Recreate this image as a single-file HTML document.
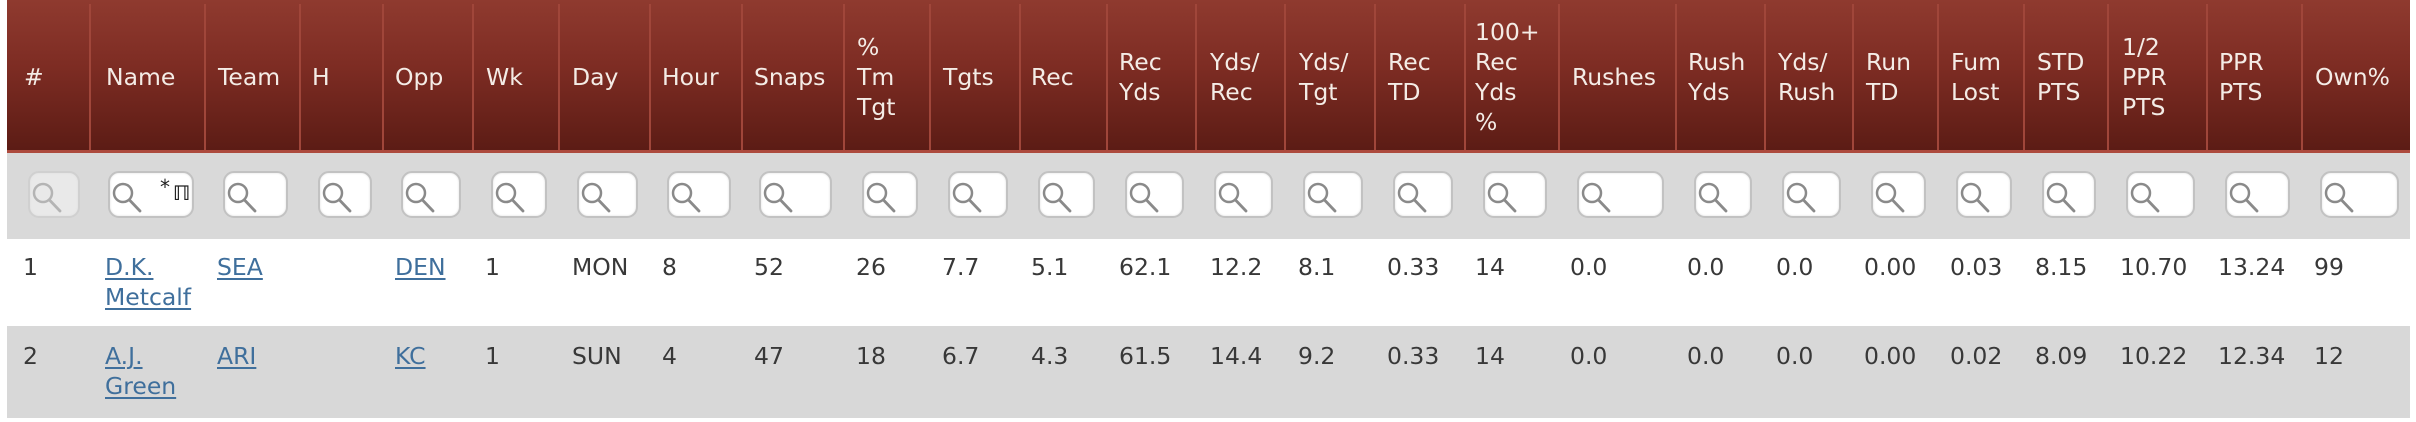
<!DOCTYPE html>
<html><head><meta charset="utf-8"><style>
html,body{margin:0;padding:0;background:#fff;}
body{width:2416px;height:422px;position:relative;overflow:hidden;font-family:"DejaVu Sans","Liberation Sans",sans-serif;font-size:23.5px;}
.hdr{position:absolute;left:7px;top:0;width:2403px;height:150px;background:linear-gradient(#8f3a2f 0%,#7d2c23 45%,#5c1c15 100%);}
.hline{position:absolute;left:7px;top:150px;width:2403px;height:3px;background:#ad4a3d;}
.sep{position:absolute;top:4px;width:2px;height:146px;background:#a0463a;}
.ht{position:absolute;top:0;height:154px;display:flex;align-items:center;color:#f4ece6;line-height:30px;white-space:nowrap;}
.frow{position:absolute;left:7px;top:153px;width:2403px;height:86px;background:#d9d9d9;}
.r1{position:absolute;left:7px;top:239px;width:2403px;height:87px;background:#fff;}
.r2{position:absolute;left:7px;top:326px;width:2403px;height:92px;background:#d8d8d8;}
.box{position:absolute;top:171px;height:47px;box-sizing:border-box;border:2px solid #c2c2c2;border-radius:11px;background:#fff;box-shadow:inset 0 0 2px #ddd;}
.box svg{position:absolute;left:0;top:0;}
.box.dis{background:#e9e9e9;border-color:#d0d0d0;}
.c{position:absolute;line-height:30px;color:#383838;white-space:nowrap;}
.c a{color:#3f6f9c;text-decoration:underline;text-decoration-thickness:2px;text-underline-offset:3px;}
.t1{top:252px;}
.t2{top:341px;}
.star{position:absolute;left:50px;top:2px;font-size:20px;color:#222;}
.pi{position:absolute;left:63px;top:8px;font-size:20px;font-weight:bold;color:#222;}
</style></head><body>
<div class="hdr"></div>
<div class="hline"></div>
<div class="sep" style="left:89px"></div>
<div class="sep" style="left:204px"></div>
<div class="sep" style="left:299px"></div>
<div class="sep" style="left:382px"></div>
<div class="sep" style="left:472px"></div>
<div class="sep" style="left:558px"></div>
<div class="sep" style="left:649px"></div>
<div class="sep" style="left:741px"></div>
<div class="sep" style="left:843px"></div>
<div class="sep" style="left:929px"></div>
<div class="sep" style="left:1019px"></div>
<div class="sep" style="left:1106px"></div>
<div class="sep" style="left:1195px"></div>
<div class="sep" style="left:1284px"></div>
<div class="sep" style="left:1374px"></div>
<div class="sep" style="left:1464px"></div>
<div class="sep" style="left:1558px"></div>
<div class="sep" style="left:1675px"></div>
<div class="sep" style="left:1764px"></div>
<div class="sep" style="left:1852px"></div>
<div class="sep" style="left:1937px"></div>
<div class="sep" style="left:2023px"></div>
<div class="sep" style="left:2107px"></div>
<div class="sep" style="left:2206px"></div>
<div class="sep" style="left:2301px"></div>

<div class="ht" style="left:24px">#</div>
<div class="ht" style="left:106px">Name</div>
<div class="ht" style="left:218px">Team</div>
<div class="ht" style="left:312px">H</div>
<div class="ht" style="left:395px">Opp</div>
<div class="ht" style="left:486px">Wk</div>
<div class="ht" style="left:572px">Day</div>
<div class="ht" style="left:662px">Hour</div>
<div class="ht" style="left:754px">Snaps</div>
<div class="ht" style="left:857px">%<br>Tm<br>Tgt</div>
<div class="ht" style="left:943px">Tgts</div>
<div class="ht" style="left:1031px">Rec</div>
<div class="ht" style="left:1119px">Rec<br>Yds</div>
<div class="ht" style="left:1210px">Yds/<br>Rec</div>
<div class="ht" style="left:1299px">Yds/<br>Tgt</div>
<div class="ht" style="left:1388px">Rec<br>TD</div>
<div class="ht" style="left:1475px">100+<br>Rec<br>Yds<br>%</div>
<div class="ht" style="left:1572px">Rushes</div>
<div class="ht" style="left:1688px">Rush<br>Yds</div>
<div class="ht" style="left:1778px">Yds/<br>Rush</div>
<div class="ht" style="left:1866px">Run<br>TD</div>
<div class="ht" style="left:1951px">Fum<br>Lost</div>
<div class="ht" style="left:2037px">STD<br>PTS</div>
<div class="ht" style="left:2122px">1/2<br>PPR<br>PTS</div>
<div class="ht" style="left:2219px">PPR<br>PTS</div>
<div class="ht" style="left:2315px">Own%</div>

<div class="frow"></div>
<div class="r1"></div>
<div class="r2"></div>

<div class="box dis" style="left:28px;width:52px"><svg width="50" height="45"><circle cx="13" cy="20" r="9" fill="none" stroke="#b4b4b4" stroke-width="2.5"/><line x1="19.5" y1="27" x2="30" y2="38" stroke="#b4b4b4" stroke-width="2.8" stroke-linecap="round"/></svg></div>
<div class="box" style="left:108px;width:86px"><svg width="84" height="45"><circle cx="13" cy="20" r="9" fill="none" stroke="#8a8a8a" stroke-width="2.5"/><line x1="19.5" y1="27" x2="30" y2="38" stroke="#8a8a8a" stroke-width="2.8" stroke-linecap="round"/></svg><span class="star">*</span><span class="pi">ℿ</span></div>
<div class="box" style="left:223px;width:65px"><svg width="63" height="45"><circle cx="13" cy="20" r="9" fill="none" stroke="#8a8a8a" stroke-width="2.5"/><line x1="19.5" y1="27" x2="30" y2="38" stroke="#8a8a8a" stroke-width="2.8" stroke-linecap="round"/></svg></div>
<div class="box" style="left:318px;width:54px"><svg width="52" height="45"><circle cx="13" cy="20" r="9" fill="none" stroke="#8a8a8a" stroke-width="2.5"/><line x1="19.5" y1="27" x2="30" y2="38" stroke="#8a8a8a" stroke-width="2.8" stroke-linecap="round"/></svg></div>
<div class="box" style="left:401px;width:60px"><svg width="58" height="45"><circle cx="13" cy="20" r="9" fill="none" stroke="#8a8a8a" stroke-width="2.5"/><line x1="19.5" y1="27" x2="30" y2="38" stroke="#8a8a8a" stroke-width="2.8" stroke-linecap="round"/></svg></div>
<div class="box" style="left:491px;width:56px"><svg width="54" height="45"><circle cx="13" cy="20" r="9" fill="none" stroke="#8a8a8a" stroke-width="2.5"/><line x1="19.5" y1="27" x2="30" y2="38" stroke="#8a8a8a" stroke-width="2.8" stroke-linecap="round"/></svg></div>
<div class="box" style="left:577px;width:61px"><svg width="59" height="45"><circle cx="13" cy="20" r="9" fill="none" stroke="#8a8a8a" stroke-width="2.5"/><line x1="19.5" y1="27" x2="30" y2="38" stroke="#8a8a8a" stroke-width="2.8" stroke-linecap="round"/></svg></div>
<div class="box" style="left:667px;width:64px"><svg width="62" height="45"><circle cx="13" cy="20" r="9" fill="none" stroke="#8a8a8a" stroke-width="2.5"/><line x1="19.5" y1="27" x2="30" y2="38" stroke="#8a8a8a" stroke-width="2.8" stroke-linecap="round"/></svg></div>
<div class="box" style="left:759px;width:73px"><svg width="71" height="45"><circle cx="13" cy="20" r="9" fill="none" stroke="#8a8a8a" stroke-width="2.5"/><line x1="19.5" y1="27" x2="30" y2="38" stroke="#8a8a8a" stroke-width="2.8" stroke-linecap="round"/></svg></div>
<div class="box" style="left:862px;width:56px"><svg width="54" height="45"><circle cx="13" cy="20" r="9" fill="none" stroke="#8a8a8a" stroke-width="2.5"/><line x1="19.5" y1="27" x2="30" y2="38" stroke="#8a8a8a" stroke-width="2.8" stroke-linecap="round"/></svg></div>
<div class="box" style="left:948px;width:60px"><svg width="58" height="45"><circle cx="13" cy="20" r="9" fill="none" stroke="#8a8a8a" stroke-width="2.5"/><line x1="19.5" y1="27" x2="30" y2="38" stroke="#8a8a8a" stroke-width="2.8" stroke-linecap="round"/></svg></div>
<div class="box" style="left:1038px;width:57px"><svg width="55" height="45"><circle cx="13" cy="20" r="9" fill="none" stroke="#8a8a8a" stroke-width="2.5"/><line x1="19.5" y1="27" x2="30" y2="38" stroke="#8a8a8a" stroke-width="2.8" stroke-linecap="round"/></svg></div>
<div class="box" style="left:1125px;width:59px"><svg width="57" height="45"><circle cx="13" cy="20" r="9" fill="none" stroke="#8a8a8a" stroke-width="2.5"/><line x1="19.5" y1="27" x2="30" y2="38" stroke="#8a8a8a" stroke-width="2.8" stroke-linecap="round"/></svg></div>
<div class="box" style="left:1214px;width:59px"><svg width="57" height="45"><circle cx="13" cy="20" r="9" fill="none" stroke="#8a8a8a" stroke-width="2.5"/><line x1="19.5" y1="27" x2="30" y2="38" stroke="#8a8a8a" stroke-width="2.8" stroke-linecap="round"/></svg></div>
<div class="box" style="left:1303px;width:60px"><svg width="58" height="45"><circle cx="13" cy="20" r="9" fill="none" stroke="#8a8a8a" stroke-width="2.5"/><line x1="19.5" y1="27" x2="30" y2="38" stroke="#8a8a8a" stroke-width="2.8" stroke-linecap="round"/></svg></div>
<div class="box" style="left:1393px;width:60px"><svg width="58" height="45"><circle cx="13" cy="20" r="9" fill="none" stroke="#8a8a8a" stroke-width="2.5"/><line x1="19.5" y1="27" x2="30" y2="38" stroke="#8a8a8a" stroke-width="2.8" stroke-linecap="round"/></svg></div>
<div class="box" style="left:1483px;width:64px"><svg width="62" height="45"><circle cx="13" cy="20" r="9" fill="none" stroke="#8a8a8a" stroke-width="2.5"/><line x1="19.5" y1="27" x2="30" y2="38" stroke="#8a8a8a" stroke-width="2.8" stroke-linecap="round"/></svg></div>
<div class="box" style="left:1577px;width:87px"><svg width="85" height="45"><circle cx="13" cy="20" r="9" fill="none" stroke="#8a8a8a" stroke-width="2.5"/><line x1="19.5" y1="27" x2="30" y2="38" stroke="#8a8a8a" stroke-width="2.8" stroke-linecap="round"/></svg></div>
<div class="box" style="left:1694px;width:58px"><svg width="56" height="45"><circle cx="13" cy="20" r="9" fill="none" stroke="#8a8a8a" stroke-width="2.5"/><line x1="19.5" y1="27" x2="30" y2="38" stroke="#8a8a8a" stroke-width="2.8" stroke-linecap="round"/></svg></div>
<div class="box" style="left:1782px;width:59px"><svg width="57" height="45"><circle cx="13" cy="20" r="9" fill="none" stroke="#8a8a8a" stroke-width="2.5"/><line x1="19.5" y1="27" x2="30" y2="38" stroke="#8a8a8a" stroke-width="2.8" stroke-linecap="round"/></svg></div>
<div class="box" style="left:1871px;width:55px"><svg width="53" height="45"><circle cx="13" cy="20" r="9" fill="none" stroke="#8a8a8a" stroke-width="2.5"/><line x1="19.5" y1="27" x2="30" y2="38" stroke="#8a8a8a" stroke-width="2.8" stroke-linecap="round"/></svg></div>
<div class="box" style="left:1956px;width:56px"><svg width="54" height="45"><circle cx="13" cy="20" r="9" fill="none" stroke="#8a8a8a" stroke-width="2.5"/><line x1="19.5" y1="27" x2="30" y2="38" stroke="#8a8a8a" stroke-width="2.8" stroke-linecap="round"/></svg></div>
<div class="box" style="left:2042px;width:54px"><svg width="52" height="45"><circle cx="13" cy="20" r="9" fill="none" stroke="#8a8a8a" stroke-width="2.5"/><line x1="19.5" y1="27" x2="30" y2="38" stroke="#8a8a8a" stroke-width="2.8" stroke-linecap="round"/></svg></div>
<div class="box" style="left:2126px;width:69px"><svg width="67" height="45"><circle cx="13" cy="20" r="9" fill="none" stroke="#8a8a8a" stroke-width="2.5"/><line x1="19.5" y1="27" x2="30" y2="38" stroke="#8a8a8a" stroke-width="2.8" stroke-linecap="round"/></svg></div>
<div class="box" style="left:2225px;width:65px"><svg width="63" height="45"><circle cx="13" cy="20" r="9" fill="none" stroke="#8a8a8a" stroke-width="2.5"/><line x1="19.5" y1="27" x2="30" y2="38" stroke="#8a8a8a" stroke-width="2.8" stroke-linecap="round"/></svg></div>
<div class="box" style="left:2320px;width:79px"><svg width="77" height="45"><circle cx="13" cy="20" r="9" fill="none" stroke="#8a8a8a" stroke-width="2.5"/><line x1="19.5" y1="27" x2="30" y2="38" stroke="#8a8a8a" stroke-width="2.8" stroke-linecap="round"/></svg></div>

<!-- Row 1 -->
<div class="c t1" style="left:23px">1</div>
<div class="c t1" style="left:105px"><a>D.K.</a><br><a>Metcalf</a></div>
<div class="c t1" style="left:217px"><a>SEA</a></div>
<div class="c t1" style="left:395px"><a>DEN</a></div>
<div class="c t1" style="left:485px">1</div>
<div class="c t1" style="left:572px">MON</div>
<div class="c t1" style="left:662px">8</div>
<div class="c t1" style="left:754px">52</div>
<div class="c t1" style="left:856px">26</div>
<div class="c t1" style="left:942px">7.7</div>
<div class="c t1" style="left:1031px">5.1</div>
<div class="c t1" style="left:1119px">62.1</div>
<div class="c t1" style="left:1210px">12.2</div>
<div class="c t1" style="left:1298px">8.1</div>
<div class="c t1" style="left:1387px">0.33</div>
<div class="c t1" style="left:1475px">14</div>
<div class="c t1" style="left:1570px">0.0</div>
<div class="c t1" style="left:1687px">0.0</div>
<div class="c t1" style="left:1776px">0.0</div>
<div class="c t1" style="left:1864px">0.00</div>
<div class="c t1" style="left:1950px">0.03</div>
<div class="c t1" style="left:2035px">8.15</div>
<div class="c t1" style="left:2120px">10.70</div>
<div class="c t1" style="left:2218px">13.24</div>
<div class="c t1" style="left:2314px">99</div>

<!-- Row 2 -->
<div class="c t2" style="left:23px">2</div>
<div class="c t2" style="left:105px"><a>A.J.</a><br><a>Green</a></div>
<div class="c t2" style="left:217px"><a>ARI</a></div>
<div class="c t2" style="left:395px"><a>KC</a></div>
<div class="c t2" style="left:485px">1</div>
<div class="c t2" style="left:572px">SUN</div>
<div class="c t2" style="left:662px">4</div>
<div class="c t2" style="left:754px">47</div>
<div class="c t2" style="left:856px">18</div>
<div class="c t2" style="left:942px">6.7</div>
<div class="c t2" style="left:1031px">4.3</div>
<div class="c t2" style="left:1119px">61.5</div>
<div class="c t2" style="left:1210px">14.4</div>
<div class="c t2" style="left:1298px">9.2</div>
<div class="c t2" style="left:1387px">0.33</div>
<div class="c t2" style="left:1475px">14</div>
<div class="c t2" style="left:1570px">0.0</div>
<div class="c t2" style="left:1687px">0.0</div>
<div class="c t2" style="left:1776px">0.0</div>
<div class="c t2" style="left:1864px">0.00</div>
<div class="c t2" style="left:1950px">0.02</div>
<div class="c t2" style="left:2035px">8.09</div>
<div class="c t2" style="left:2120px">10.22</div>
<div class="c t2" style="left:2218px">12.34</div>
<div class="c t2" style="left:2314px">12</div>
</body></html>
